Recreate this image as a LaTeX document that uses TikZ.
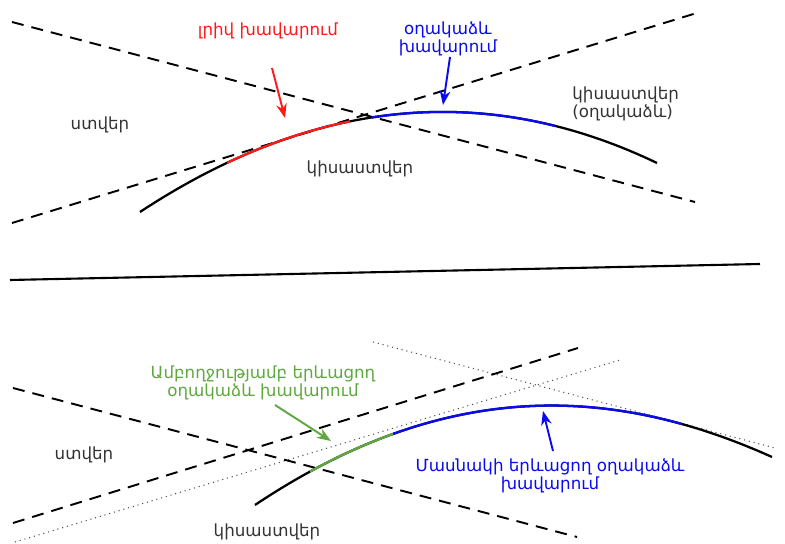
\documentclass[tikz,border=0pt]{standalone}
\usepackage{fontspec}
\setmainfont{DejaVu Sans}
\usetikzlibrary{arrows.meta}

\definecolor{eclred}{HTML}{FF1A1A}
\definecolor{eclblue}{HTML}{0A0AF0}
\definecolor{eclgreen}{HTML}{5FA83F}
\definecolor{labelgray}{HTML}{333333}

\begin{document}
\begin{tikzpicture}[x=0.02cm,
y=-0.02cm,
every node/.style={
font=\fontsize{9.5}{10.6}\selectfont,
inner sep=0pt,
align=center,
text=labelgray,
},
shadowline/.style={
line width=1.1pt,
dash pattern=on 6.8pt off 4.6pt,
},
dotline/.style={
line width=0.6pt,
black!70,
dash pattern=on 0.6pt off 2.2pt,
},
eclarc/.style={
line width=1.3pt,
},
pointer/.style={
line width=1.1pt,
-{Stealth[length=8pt,width=6pt,inset=2.5pt]},
}]

\useasboundingbox (0,0) rectangle (785,544);

%upper half: shadow borders
\draw[shadowline] (12,22) -- (695,202);
\draw[shadowline] (12,223) -- (700,12);

%upper half: eclipse path
\draw[eclarc] (140,212) .. controls (313,98) and (486,81) .. (657,163);
\begin{scope}
\clip (227,60) rectangle (350,240);
\draw[eclarc,eclred] (140,212) .. controls (313,98) and (486,81) .. (657,163);
\end{scope}
\begin{scope}
\clip (372,60) rectangle (555,240);
\draw[eclarc,eclblue] (140,212) .. controls (313,98) and (486,81) .. (657,163);
\end{scope}

%upper half: labels
\node[text=eclred] (totaltop) at (268,31) {լրիվ խավարում};
\node[text=eclblue] (annulartop) at (448,39) {օղակաձև\\խավարում};
\node[align=left,anchor=west] (penumbraring) at (572,104) {կիսաստվեր\\(օղակաձև)};
\node (umbratop) at (100,125) {ստվեր};
\node (penumbratop) at (360,169) {կիսաստվեր};

\coordinate (redtail) at (272,68);
\coordinate (redtip) at (285,118);
\coordinate (bluetail) at (450,57);
\coordinate (bluetip) at (443,105);
\draw[pointer,eclred] (redtail) -- (redtip);
\draw[pointer,eclblue] (bluetail) -- (bluetip);

%separator
\draw[line width=1.2pt] (10,280) -- (760,264);

%lower half: tangent lines
\draw[dotline] (15,542) -- (620,360);
\draw[dotline] (373,342) -- (775,448);
\draw[shadowline] (13,523) -- (578,348);
\draw[shadowline] (13,388) -- (577,537);

%lower half: eclipse path
\draw[eclarc] (255,505) .. controls (445,378) and (612,385) .. (772,457);
\begin{scope}
\clip (310,380) rectangle (393,520);
\draw[eclarc,eclgreen] (255,505) .. controls (445,378) and (612,385) .. (772,457);
\end{scope}
\begin{scope}
\clip (393,380) rectangle (682,520);
\draw[eclarc,eclblue] (255,505) .. controls (445,378) and (612,385) .. (772,457);
\end{scope}

%lower half: labels
\node[text=eclgreen] (fullvis) at (263,383) {Ամբողջությամբ երևացող\\օղակաձև խավարում};
\node[text=eclblue] (partvis) at (550,476) {Մասնակի երևացող օղակաձև\\խավարում};
\node (umbrabot) at (84,455) {ստվեր};
\node (penumbrabot) at (267,532) {կիսաստվեր};

\coordinate (greentail) at (275,405);
\coordinate (greentip) at (331,441);
\coordinate (partail) at (553,451);
\coordinate (partip) at (543,411);
\draw[pointer,eclgreen] (greentail) -- (greentip);
\draw[pointer,eclblue] (partail) -- (partip);
\end{tikzpicture}
\end{document}
